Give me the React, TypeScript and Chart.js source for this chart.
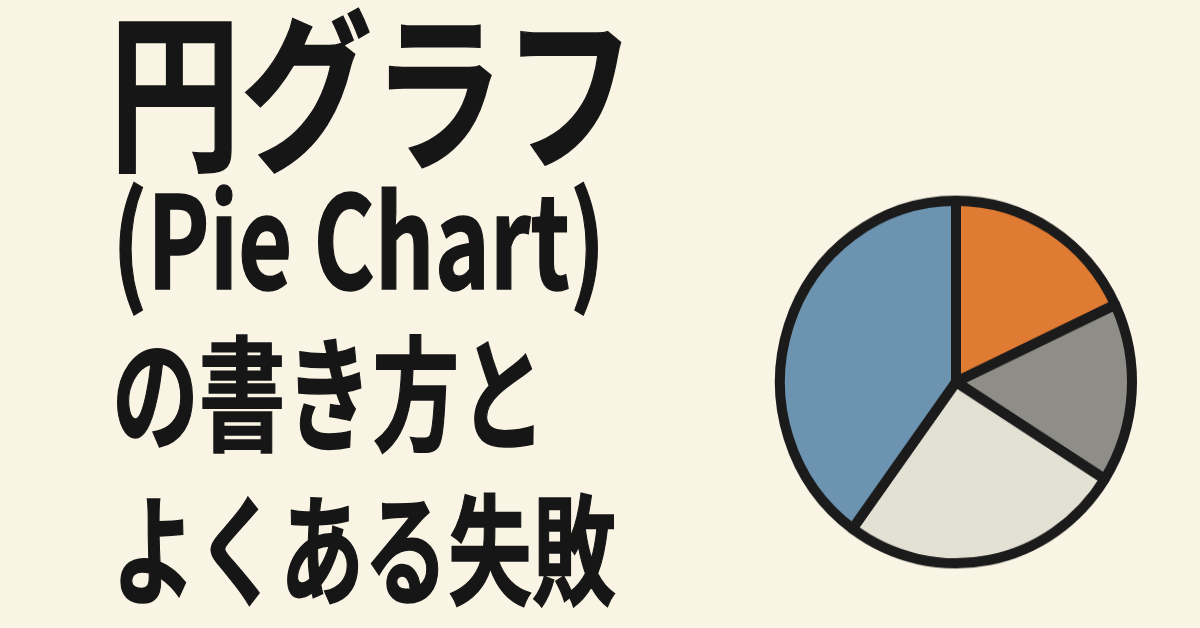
import React, { useRef, useEffect } from "react";
import Chart from "chart.js/auto";

// slice data, clockwise from 12 o'clock
const sliceLabels = ["A", "B", "C", "D"];
const sliceValues = [18, 16, 26, 40];
const sliceColors = ["#E07B33", "#8E8D87", "#E3E0D4", "#6C94B1"];

const titleLines = ["円グラフ", "(Pie Chart)", "の書き方と", "よくある失敗"];

const BG = "#FAF4E5";
const INK = "#161616";

const PieCanvas: React.FC = () => {
  const canvasRef = useRef<HTMLCanvasElement | null>(null);

  useEffect(() => {
    if (!canvasRef.current) return;
    const chart = new Chart(canvasRef.current, {
      type: "pie",
      data: {
        labels: sliceLabels,
        datasets: [
          {
            data: sliceValues,
            backgroundColor: sliceColors,
            borderColor: "#1B1B1B",
            borderWidth: 10,
            borderJoinStyle: "round",
            hoverOffset: 0,
          },
        ],
      },
      options: {
        animation: false,
        responsive: false,
        events: [],
        radius: 176,
        layout: { padding: 0 },
        plugins: {
          legend: { display: false },
          tooltip: { enabled: false },
        },
      },
    });
    return () => chart.destroy();
  }, []);

  // slightly taller than wide, like the reference drawing
  return (
    <canvas
      ref={canvasRef}
      width={400}
      height={400}
      style={{ position: "absolute", left: 756, top: 176, width: 400, height: 412 }}
    />
  );
};

const lineStyle = (
  left: number,
  top: number,
  size: number,
  scale: number,
  stroke: number
): React.CSSProperties => ({
  position: "absolute",
  left,
  top,
  fontSize: size,
  lineHeight: 1,
  whiteSpace: "nowrap",
  transform: `scaleX(${scale})`,
  transformOrigin: "left top",
  WebkitTextStroke: `${stroke}px ${INK}`,
});

const App: React.FC = () => {
  return (
    <div
      style={{
        position: "fixed",
        left: 0,
        top: 0,
        width: 1200,
        height: 628,
        background: BG,
        overflow: "hidden",
        fontFamily: '"Noto Sans CJK JP", "Noto Sans", sans-serif',
        fontWeight: 700,
        color: INK,
      }}
    >
      <div style={lineStyle(109, -4, 172, 0.765, 1.5)}>{titleLines[0]}</div>
      <div style={lineStyle(112, 170, 128, 0.73, 1.5)}>{titleLines[1]}</div>
      <div style={lineStyle(112, 325, 124, 0.7, 1.5)}>{titleLines[2]}</div>
      <div style={lineStyle(112, 484, 120, 0.7, 1.5)}>{titleLines[3]}</div>
      <PieCanvas />
    </div>
  );
};

export default App;
